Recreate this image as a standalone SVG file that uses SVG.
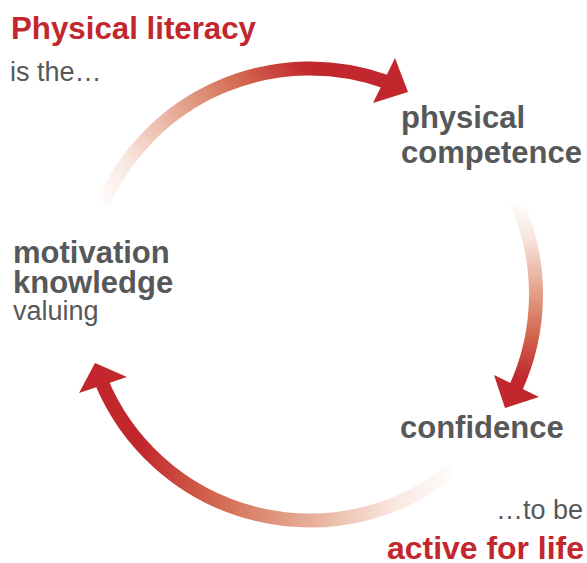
<svg xmlns="http://www.w3.org/2000/svg" width="587" height="563" viewBox="0 0 587 563">
  <style>
    .bold { font-family: "Liberation Sans", Arial, sans-serif; font-weight: bold; font-size: 31px; }
    .reg { font-family: "Liberation Sans", Arial, sans-serif; font-weight: normal; font-size: 27px; }
    .gray { fill: #56585a; }
    .red { fill: #c1272d; }
    .arc { fill: none; stroke-width: 14; }
    .head { fill: #c1272d; }
  </style>
  <defs>
    <linearGradient id="gTop" gradientUnits="userSpaceOnUse" x1="100" y1="208" x2="308" y2="68">
      <stop offset="0" stop-color="#ffffff"/>
      <stop offset="0.2" stop-color="#f8e6de"/>
      <stop offset="0.5" stop-color="#e4a38c"/>
      <stop offset="0.75" stop-color="#d2684f"/>
      <stop offset="1" stop-color="#c1272d"/>
    </linearGradient>
    <linearGradient id="gRight" gradientUnits="userSpaceOnUse" x1="515" y1="202" x2="515" y2="378">
      <stop offset="0" stop-color="#ffffff"/>
      <stop offset="0.2" stop-color="#f8e6de"/>
      <stop offset="0.5" stop-color="#e4a38c"/>
      <stop offset="0.75" stop-color="#d2684f"/>
      <stop offset="1" stop-color="#c1272d"/>
    </linearGradient>
    <linearGradient id="gBottom" gradientUnits="userSpaceOnUse" x1="460" y1="470" x2="140" y2="440">
      <stop offset="0" stop-color="#ffffff"/>
      <stop offset="0.2" stop-color="#f8e6de"/>
      <stop offset="0.5" stop-color="#e4a38c"/>
      <stop offset="0.75" stop-color="#d2684f"/>
      <stop offset="1" stop-color="#c1272d"/>
    </linearGradient>
  </defs>

  <g id="connectors">
    <path class="arc" stroke="url(#gTop)" d="M102.6,204.8 A226,226 0 0 1 387.3,82.1"/>
    <polygon class="head" points="395,58 408,92 373,103"/>
    <path class="arc" stroke="url(#gRight)" d="M515.7,200.8 A226,226 0 0 1 514.8,390"/>
    <polygon class="head" points="494,375 539,397 505,408"/>
    <path class="arc" stroke="url(#gBottom)" d="M455.3,467.6 A226,226 0 0 1 101.2,381"/>
    <polygon class="head" points="127,377 79,393 95,363"/>
  </g>

  <g id="title">
    <text class="bold red" x="11" y="39" textLength="245" lengthAdjust="spacingAndGlyphs">Physical literacy</text>
    <text class="reg gray" x="10" y="81">is the…</text>
  </g>

  <g id="physical-competence">
    <text class="bold gray" x="401" y="128">physical</text>
    <text class="bold gray" x="401" y="163">competence</text>
  </g>

  <g id="confidence">
    <text class="bold gray" x="400" y="438">confidence</text>
  </g>

  <g id="active-for-life">
    <text class="reg gray" x="583" y="519" text-anchor="end">…to be</text>
    <text class="bold red" x="387" y="559" textLength="197" lengthAdjust="spacingAndGlyphs">active for life</text>
  </g>

  <g id="motivation">
    <text class="bold gray" x="13" y="263">motivation</text>
    <text class="bold gray" x="13" y="293">knowledge</text>
    <text class="reg gray" x="13" y="320">valuing</text>
  </g>
</svg>
